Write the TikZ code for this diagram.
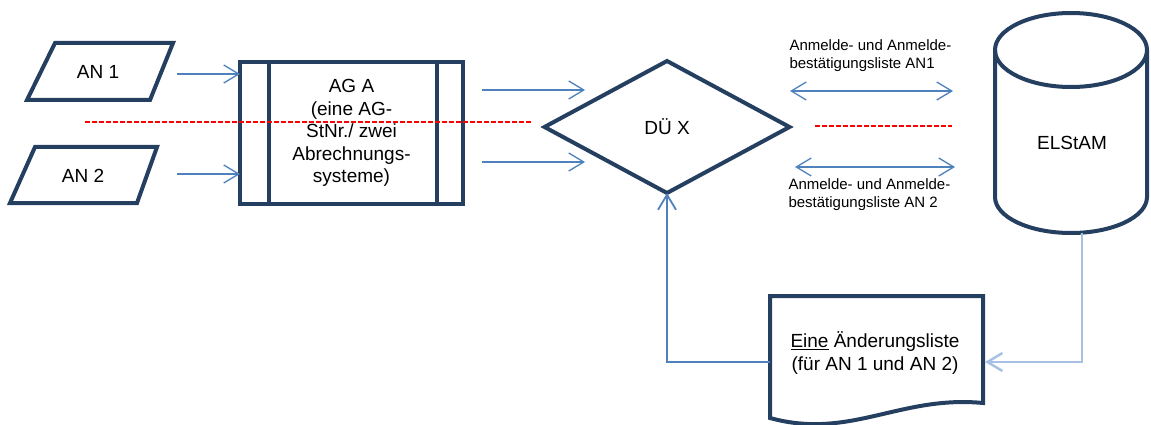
\documentclass[tikz,border=0pt]{standalone}
\usepackage{fontspec}
\setmainfont{Liberation Sans}
\usetikzlibrary{arrows.meta,shapes.geometric}
\definecolor{navy}{RGB}{36,63,96}
\definecolor{pfeil}{RGB}{79,129,189}
\definecolor{hellblau}{RGB}{166,193,228}
\definecolor{strich}{RGB}{255,0,0}
\begin{document}
\begin{tikzpicture}[x=1pt,y=-1pt,every node/.style={font=\fontsize{19}{22.5}\selectfont,text=black},
	rand/.style={draw=navy,line width=4pt,outer sep=0pt},
	pf/.style={pfeil,line width=1.3pt,-{Straight Barb[length=15pt,width=18pt]}},
	hin/.style={pfeil,line width=1.3pt,{Straight Barb[length=15pt,width=18pt]}-{Straight Barb[length=15pt,width=18pt]}},
	rot/.style={draw=strich,line width=1.2pt,dash pattern=on 5pt off 2pt},
	klein/.style={font=\fontsize{15}{18}\selectfont,align=left,anchor=west}]
		\useasboundingbox(0,0)rectangle(1151,425);
		\coordinate(a1)at(177,74);
		\coordinate(a2)at(177,174);
		\coordinate(b1)at(482,90);
		\coordinate(b2)at(585,90);
		\coordinate(b3)at(482,162);
		\coordinate(b4)at(585,162);
		\coordinate(c1)at(790,91);
		\coordinate(c2)at(953,91);
		\coordinate(c3)at(795,167);
		\coordinate(c4)at(955,167);
		\coordinate(zb)at(1082,233);
		\coordinate(dl)at(770,362);
		\coordinate(dr)at(985,362);
		% AN 1 / AN 2
		\draw[rand](27,100)--(150,100)--(173,43)--(55,43)--cycle;
		\draw[rand](10,203)--(137,203)--(157,147)--(35,147)--cycle;
		\node(an1)at(98,72){AN 1};
		\node(an2)at(83,176){AN 2};
		% AG A
		\node[rand,minimum width=223,minimum height=142,align=center,inner sep=0pt](ag)at(351.5,133){AG A\\(eine AG-\\StNr./ zwei\\Abrechnungs-\\systeme)};
		\foreach\d in{29,197}{\draw[rand]([xshift=\d]ag.north west)--([xshift=\d]ag.south west);}
		% DUE X
		\node[rand,diamond,aspect=1.86,minimum width=245,minimum height=132,inner sep=0pt](du)at(667,127){DÜ X};
		% ELStAM
		\draw[rand](1071,50)ellipse[x radius=76,y radius=37];
		\draw[rand](995,50)--(995,197)arc[start angle=180,end angle=0,x radius=76,y radius=36]--(1147,50);
		\node(el)at(1072,143){ELStAM};
		% Aenderungsliste
		\draw[rand](770,296)--(983,296)--(983,403).. controls(900,395)and(850,440)..(770,418)--cycle;
		\node[align=center](al)at(875,353){\underline{Eine} Änderungsliste\\(für AN 1 und AN 2)};
		% Pfeile
		\draw[pf](a1)--(a1-|ag.west);
		\draw[pf](a2)--(a2-|ag.west);
		\draw[pf](b1)--(b2);
		\draw[pf](b3)--(b4);
		\draw[hin](c1)--(c2);
		\draw[hin](c3)--(c4);
		\draw[pf,hellblau,line width=2.5pt](zb)|-(dr);
		\draw[pf,line width=1.8pt](dl)-|(du.south);
		\draw[rot](85,122)--(532,122);
		\draw[rot](815,126)--(952,126);
		\node[klein](l1)at(786,56){Anmelde- und Anmelde-\\bestätigungsliste AN1};
		\node[klein](l2)at(785,195){Anmelde- und Anmelde-\\bestätigungsliste AN 2};
\end{tikzpicture}
\end{document}
